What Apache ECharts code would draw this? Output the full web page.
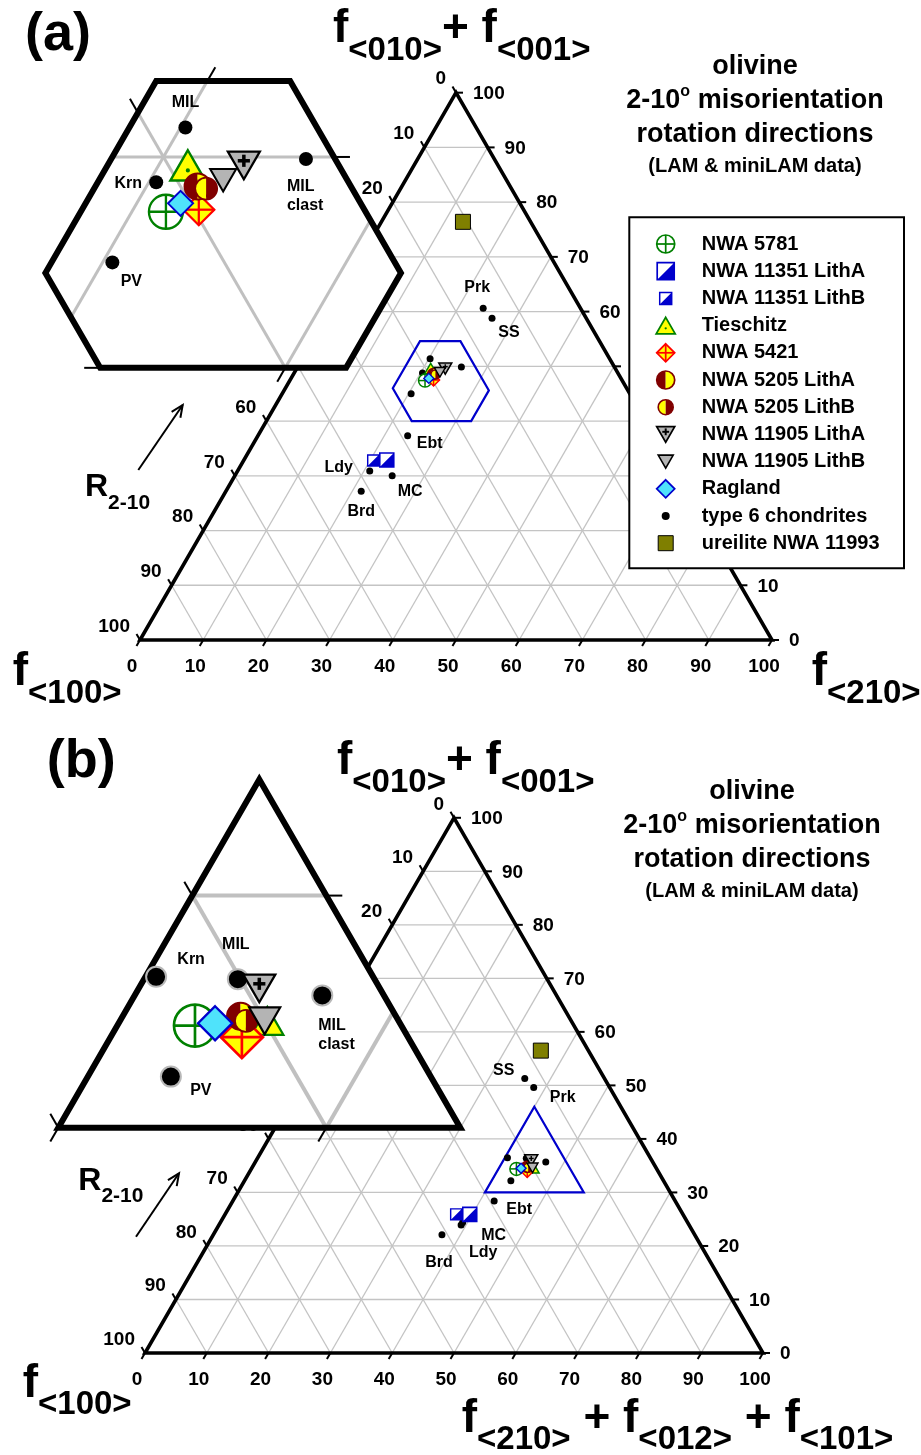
<!DOCTYPE html>
<html>
<head>
<meta charset="utf-8">
<script src="https://cdn.jsdelivr.net/npm/echarts@6.0.0/dist/echarts.min.js"></script>
<style>
  html, body { margin: 0; padding: 0; background: #fff; }
  #chart { width: 921px; height: 1455px; }
</style>
</head>
<body>
<div id="chart"></div>
<script>
// ---------------- data ----------------
// Ternary values: T = top vertex %, R = right vertex %, L = 100 - T - R (left vertex, f<100>)
const axisTicks = [0, 10, 20, 30, 40, 50, 60, 70, 80, 90, 100];
const gridSteps = [10, 20, 30, 40, 50, 60, 70, 80, 90];

// (a) T = f<010>+f<001>, R = f<210>
const meteoritesA = [
  ['NWA 5781', 47.4, 21.4],
  ['NWA 11351 LithA', 32.9, 22.6],
  ['NWA 11351 LithB', 32.8, 20.5],
  ['Tieschitz', 49.6, 21.2],
  ['NWA 5421', 47.5, 22.7],
  ['NWA 5205 LithA', 48.6, 22.1],
  ['NWA 5205 LithB', 48.5, 22.5],
  ['NWA 11905 LithA', 49.6, 23.5],
  ['NWA 11905 LithB', 48.9, 23.0],
  ['Ragland', 47.8, 21.8]
];
const type6A = [
  ['MIL', 51.4, 20.2], ['Krn', 48.8, 20.3], ['MIL clast', 49.9, 25.9], ['PV', 45.0, 20.4],
  ['Ebt', 37.3, 23.7], ['Ldy', 30.9, 20.9], ['MC', 30.0, 24.9], ['Brd', 27.2, 21.4],
  ['Prk', 60.6, 24.0], ['SS', 58.8, 26.3]
];
const ureiliteA = [['ureilite NWA 11993', 76.4, 12.9]];
// outlined region on the diagram and the enlarged region: [T range], [R range], [L range]
const outlineA = [[40, 54.6], [17, 32.4], [22, 37]];
const zoomWindowA = [[40, 53.6], [17.9, 32.5], [23, 37.6]];
const zoomTicksA = [['R', 20, 1], ['L', 30, 1], ['T', 50, 1], ['T', 40, 0], ['R', 30, 0]];

// (b) T = f<010>+f<001>, R = f<210>+f<012>+f<101>
const meteoritesB = [
  ['NWA 5781', 34.4, 42.9],
  ['NWA 11351 LithA', 25.9, 39.6],
  ['NWA 11351 LithB', 25.9, 37.4],
  ['Tieschitz', 34.6, 45.5],
  ['NWA 5421', 33.9, 44.9],
  ['NWA 5205 LithA', 34.8, 44.4],
  ['NWA 5205 LithB', 34.6, 44.7],
  ['NWA 11905 LithA', 36.0, 44.5],
  ['NWA 11905 LithB', 34.6, 45.4],
  ['Ragland', 34.5, 43.6]
];
const type6B = [
  ['MIL', 36.4, 43.5], ['Krn', 36.5, 40.4], ['MIL clast', 35.7, 47.0], ['PV', 32.2, 43.1],
  ['Ebt', 28.4, 42.3], ['Ldy', 23.9, 39.2], ['MC', 24.4, 39.2], ['Brd', 22.1, 37.0],
  ['Prk', 49.6, 38.1], ['SS', 51.3, 35.8]
];
const ureiliteB = [['ureilite NWA 11993', 56.5, 35.8]];
const outlineB = [[30, 46], [40, 56], [14, 30]];
const zoomWindowB = [[30, 45], [40, 55], [15, 30]];
const zoomTicksB = [['T', 40, 1], ['L', 20, 1], ['R', 50, 0], ['L', 30, 1], ['R', 40, 0]];

const legendNames = ['NWA 5781', 'NWA 11351 LithA', 'NWA 11351 LithB', 'Tieschitz', 'NWA 5421',
  'NWA 5205 LithA', 'NWA 5205 LithB', 'NWA 11905 LithA', 'NWA 11905 LithB', 'Ragland',
  'type 6 chondrites', 'ureilite NWA 11993'];

// ---------------- styling ----------------
const FONT = '"Liberation Sans", Arial, Helvetica, sans-serif';
const SQ = Math.sqrt(3) / 2;
const COL = { green: '#008000', blue: '#0000cc', yellow: '#ffff00', red: '#ff0000', maroon: '#800000',
  gray: '#b4b4b4', cyan: '#4fe3fb', olive: '#7f7f00', grid: '#c4c4c4' };

const glyphKind = {
  'NWA 5781': 'crossCircle', 'NWA 11351 LithA': 'halfSquare', 'NWA 11351 LithB': 'halfSquare',
  'Tieschitz': 'dotTriangle', 'NWA 5421': 'crossDiamond', 'NWA 5205 LithA': 'halfCircleA',
  'NWA 5205 LithB': 'halfCircleB', 'NWA 11905 LithA': 'crossTriDown', 'NWA 11905 LithB': 'triDown',
  'Ragland': 'diamond', 'type 6 chondrites': 'dot', 'ureilite NWA 11993': 'square'
};
const sizeMain = { 'NWA 5781': 13, 'NWA 11351 LithA': 14, 'NWA 11351 LithB': 11, 'Tieschitz': 12,
  'NWA 5421': 12, 'NWA 5205 LithA': 11, 'NWA 5205 LithB': 9, 'NWA 11905 LithA': 13, 'NWA 11905 LithB': 11,
  'Ragland': 10, 'type 6 chondrites': 7, 'ureilite NWA 11993': 15 };
const sizeInsetA = { 'NWA 5781': 34, 'Tieschitz': 35, 'NWA 5421': 31, 'NWA 5205 LithA': 26,
  'NWA 5205 LithB': 22, 'NWA 11905 LithA': 32, 'NWA 11905 LithB': 26, 'Ragland': 25, 'type 6 chondrites': 14 };
const sizeInsetB = { 'NWA 5781': 42, 'Tieschitz': 32, 'NWA 5421': 42, 'NWA 5205 LithA': 27,
  'NWA 5205 LithB': 22, 'NWA 11905 LithA': 32, 'NWA 11905 LithB': 31, 'Ragland': 34, 'type 6 chondrites': 20 };
const sizeLegend = { 'NWA 5781': 18, 'NWA 11351 LithA': 17, 'NWA 11351 LithB': 12, 'Tieschitz': 19,
  'NWA 5421': 18, 'NWA 5205 LithA': 18, 'NWA 5205 LithB': 15, 'NWA 11905 LithA': 18, 'NWA 11905 LithB': 15,
  'Ragland': 18, 'type 6 chondrites': 8, 'ureilite NWA 11993': 15 };

// label placement (pixel offsets from the point, optional alignment)
const labelsA = { Prk: [-6, -21], SS: [17, 14], Ebt: [22, 8], Ldy: [-31, -3], MC: [18, 16], Brd: [0, 20] };
const labelsAi = { MIL: [0, -25], Krn: [-28, 1], 'MIL clast': [-19, 37, 'left'], PV: [19, 19] };
const labelsB = { SS: [-21, -8], Prk: [29, 10], Ebt: [25, 9], MC: [31, 13], Ldy: [22, 28], Brd: [-3, 27.5] };
const labelsBi = { Krn: [35, -17], MIL: [-2, -35], 'MIL clast': [-4, 40, 'left'], PV: [30, 14] };

// ---------------- geometry helpers ----------------
function tern(T, R) { return [R + T / 2, T * SQ]; }

function windowVerts(w) {
  const [[t0, t1], [r0, r1], [l0, l1]] = w;
  return [[t1, r0], [t1, 100 - t1 - l0], [100 - l0 - r1, r1], [t0, r1], [t0, 100 - t0 - l1], [100 - l1 - r0, r0]];
}
function segment(type, k, w) {
  const [[t0, t1], [r0, r1], [l0, l1]] = w;
  let a, b;
  if (type === 'T') {
    a = Math.max(r0, 100 - k - l1); b = Math.min(r1, 100 - k - l0);
    return a <= b + 1e-9 ? [[k, a], [k, b]] : null;
  }
  if (type === 'R') {
    a = Math.max(t0, 100 - k - l1); b = Math.min(t1, 100 - k - l0);
    return a <= b + 1e-9 ? [[a, k], [b, k]] : null;
  }
  a = Math.max(t0, 100 - k - r1); b = Math.min(t1, 100 - k - r0);
  return a <= b + 1e-9 ? [[a, 100 - k - a], [b, 100 - k - b]] : null;
}
function windowGrid(w) {
  const ranges = { T: w[0], R: w[1], L: w[2] };
  const segs = [];
  ['T', 'R', 'L'].forEach(type => gridSteps.forEach(k => {
    if (k > ranges[type][0] + 1e-9 && k < ranges[type][1] - 1e-9) {
      const s = segment(type, k, w);
      if (s) segs.push([...tern(s[0][0], s[0][1]), ...tern(s[1][0], s[1][1])]);
    }
  }));
  return segs;
}
function fullGrid() {
  const segs = [];
  gridSteps.forEach(k => {
    segs.push([...tern(k, 0), ...tern(k, 100 - k)]);
    segs.push([...tern(0, k), ...tern(100 - k, k)]);
    segs.push([...tern(0, 100 - k), ...tern(100 - k, 0)]);
  });
  return segs;
}
function inside(w, T, R) {
  const L = 100 - T - R, e = 0.01;
  return T >= w[0][0] - e && T <= w[0][1] + e && R >= w[1][0] - e && R <= w[1][1] + e && L >= w[2][0] - e && L <= w[2][1] + e;
}

// ---------------- glyphs ----------------
function glyph(kind, x, y, s, ring) {
  const r = s / 2, lw = 1 + s / 25, h = s * SQ;
  const ln = (x1, y1, x2, y2, c, w) => ({ type: 'line', shape: { x1, y1, x2, y2 }, style: { stroke: c, lineWidth: w } });
  switch (kind) {
    case 'dot':
      return [{ type: 'circle', shape: { cx: x, cy: y, r }, style: ring ? { fill: '#000', stroke: '#b8b8b8', lineWidth: 2 } : { fill: '#000' } }];
    case 'crossCircle':
      return [
        { type: 'circle', shape: { cx: x, cy: y, r }, style: { fill: '#fff', stroke: COL.green, lineWidth: lw } },
        ln(x - r, y, x + r, y, COL.green, lw), ln(x, y - r, x, y + r, COL.green, lw)];
    case 'halfSquare':
      return [
        { type: 'rect', shape: { x: x - r, y: y - r, width: s, height: s }, style: { fill: '#fff' } },
        { type: 'polygon', shape: { points: [[x - r, y + r], [x + r, y - r], [x + r, y + r]] }, style: { fill: COL.blue } },
        { type: 'rect', shape: { x: x - r, y: y - r, width: s, height: s }, style: { fill: null, stroke: COL.blue, lineWidth: lw } }];
    case 'dotTriangle':
      return [
        { type: 'polygon', shape: { points: [[x, y - h / 2], [x + r, y + h / 2], [x - r, y + h / 2]] },
          style: { fill: COL.yellow, stroke: COL.green, lineWidth: lw, lineJoin: 'miter' } },
        { type: 'circle', shape: { cx: x, cy: y + h / 6, r: Math.max(1.1, s * 0.06) }, style: { fill: COL.green } }];
    case 'crossDiamond':
      return [
        { type: 'polygon', shape: { points: [[x, y - r], [x + r, y], [x, y + r], [x - r, y]] },
          style: { fill: COL.yellow, stroke: COL.red, lineWidth: lw } },
        ln(x - r, y, x + r, y, COL.red, lw), ln(x, y - r, x, y + r, COL.red, lw)];
    case 'halfCircleA':
    case 'halfCircleB': {
      const left = kind === 'halfCircleA' ? COL.maroon : COL.yellow;
      const right = kind === 'halfCircleA' ? COL.yellow : COL.maroon;
      return [
        { type: 'sector', shape: { cx: x, cy: y, r, r0: 0, startAngle: Math.PI / 2, endAngle: Math.PI * 1.5, clockwise: true }, style: { fill: left } },
        { type: 'sector', shape: { cx: x, cy: y, r, r0: 0, startAngle: -Math.PI / 2, endAngle: Math.PI / 2, clockwise: true }, style: { fill: right } },
        { type: 'circle', shape: { cx: x, cy: y, r }, style: { fill: null, stroke: COL.maroon, lineWidth: lw } }];
    }
    case 'crossTriDown':
    case 'triDown': {
      const out = [{ type: 'polygon', shape: { points: [[x - r, y - h / 2], [x + r, y - h / 2], [x, y + h / 2]] },
        style: { fill: COL.gray, stroke: '#000', lineWidth: lw, lineJoin: 'miter' } }];
      if (kind === 'crossTriDown') {
        const cy = y - h / 6, a = s * 0.19, t = Math.max(1.4, s * 0.11);
        out.push(ln(x - a, cy, x + a, cy, '#000', t), ln(x, cy - a, x, cy + a, '#000', t));
      }
      return out;
    }
    case 'diamond':
      return [{ type: 'polygon', shape: { points: [[x, y - r], [x + r, y], [x, y + r], [x - r, y]] },
        style: { fill: COL.cyan, stroke: COL.blue, lineWidth: lw } }];
    case 'square':
      return [{ type: 'rect', shape: { x: x - r, y: y - r, width: s, height: s }, style: { fill: COL.olive, stroke: '#000', lineWidth: 1 } }];
  }
  return [];
}

function textStyle(text, x, y, size, align, extra) {
  return Object.assign({ text, x, y, fontSize: size, fontWeight: 'bold', fontFamily: FONT, fill: '#000',
    align: align || 'left', textAlign: align || 'left', verticalAlign: 'middle', textVerticalAlign: 'middle' }, extra || {});
}

// ---------------- series builders ----------------
function base(gi, z) {
  return { type: 'custom', coordinateSystem: 'cartesian2d', xAxisIndex: gi, yAxisIndex: gi, z, silent: true, clip: false, animation: false };
}
function lineSeries(gi, segs, color, width, z) {
  return Object.assign(base(gi, z), {
    data: segs, encode: { x: [0, 2], y: [1, 3] },
    renderItem(p, api) {
      const a = api.coord([api.value(0), api.value(1)]), b = api.coord([api.value(2), api.value(3)]);
      return { type: 'line', shape: { x1: a[0], y1: a[1], x2: b[0], y2: b[1] }, style: { stroke: color, lineWidth: width } };
    }
  });
}
function polySeries(gi, verts, style, z) {
  const pts = verts.map(v => tern(v[0], v[1]));
  return Object.assign(base(gi, z), {
    data: [pts[0]],
    renderItem(p, api) {
      return { type: 'polygon', shape: { points: pts.map(q => api.coord(q)) }, style };
    }
  });
}
function axisTickSeries(gi, z) {
  const data = [];
  axisTicks.forEach(v => {
    data.push([...tern(100 - v, 0), 0, v]);   // left edge, f<100>
    data.push([...tern(0, v), 1, v]);         // bottom edge
    data.push([...tern(v, 100 - v), 2, v]);   // right edge, top-vertex fraction
  });
  const dirs = [[-0.5, -SQ], [-0.5, SQ], [1, 0]];
  return Object.assign(base(gi, z), {
    data,
    renderItem(p, api) {
      const q = api.coord([api.value(0), api.value(1)]);
      const ax = api.value(2), v = api.value(3), d = dirs[ax];
      let lab;
      if (ax === 0) lab = textStyle(String(v), q[0] - 10, q[1] - 13.5, 19, 'right');
      else if (ax === 1) lab = textStyle(String(v), q[0] - 8, q[1] + 27, 19, 'center');
      else lab = textStyle(String(v), q[0] + 17, q[1] + 1, 19, 'left');
      return { type: 'group', children: [
        { type: 'line', shape: { x1: q[0], y1: q[1], x2: q[0] + d[0] * 7, y2: q[1] + d[1] * 7 }, style: { stroke: '#000', lineWidth: 2 } },
        { type: 'text', style: lab }
      ] };
    }
  });
}
function zoomTickSeries(gi, w, ticks, z) {
  const dirs = { T1: [1, 0], T0: [-1, 0], R1: [0.5, -SQ], R0: [-0.5, SQ], L1: [-0.5, -SQ], L0: [0.5, SQ] };
  const items = ticks.map(([type, k, end]) => {
    const s = segment(type, k, w), q = s[end];
    return { value: tern(q[0], q[1]), dir: dirs[type + end] };
  });
  return Object.assign(base(gi, z), {
    data: items.map(it => it.value),
    renderItem(p, api) {
      const q = api.coord([api.value(0), api.value(1)]), d = items[p.dataIndex].dir;
      return { type: 'line', shape: { x1: q[0], y1: q[1], x2: q[0] + d[0] * 16, y2: q[1] + d[1] * 16 }, style: { stroke: '#000', lineWidth: 2 } };
    }
  });
}
function markerSeries(gi, rows, key, sizes, labels, z, win, ring) {
  const items = rows.filter(r => !win || inside(win, r[1], r[2]))
    .map(r => ({ name: r[0], value: tern(r[1], r[2]) }));
  return Object.assign(base(gi, z), {
    data: items.map(it => it.value),
    renderItem(p, api) {
      const it = items[p.dataIndex];
      const q = api.coord([api.value(0), api.value(1)]);
      const k = key || it.name;
      const children = glyph(glyphKind[k], q[0], q[1], sizes[k], ring);
      const lab = labels && labels[it.name];
      if (lab) {
        children.push({ type: 'text', style: textStyle(it.name.replace(' ', '\n'), q[0] + lab[0], q[1] + lab[1], 16, lab[2] || 'center', { lineHeight: 19 }) });
      }
      return { type: 'group', children };
    }
  });
}

// ---------------- layout ----------------
const grids = [
  { left: 140, top: 640 - 632 * SQ, width: 632, height: 632 * SQ },           // (a) main
  { left: 41.75, top: 42.55, width: 17 * 24.35, height: 15 * 24.35 },          // (a) enlarged
  { left: 145, top: 1353 - 618 * SQ, width: 618, height: 618 * SQ },           // (b) main
  { left: 31.5, top: 725.16, width: 18 * 26.8, height: 16 * 26.8 }             // (b) enlarged
];
const xr = [[0, 100], [40, 57], [0, 100], [54, 72]];
const yr = [[0, 100 * SQ], [33, 48], [0, 100 * SQ], [25, 41]];

const series = [];
function panel(gMain, gZoom, mets, t6, ure, outline, win, zticks, lMain, lZoom, sZoom, ring) {
  series.push(lineSeries(gMain, fullGrid(), COL.grid, 1.3, 1));
  series.push(polySeries(gMain, [[0, 0], [0, 100], [100, 0]], { fill: null, stroke: '#000', lineWidth: 3.6, lineJoin: 'miter' }, 3));
  series.push(axisTickSeries(gMain, 3));
  series.push(polySeries(gMain, windowVerts(outline), { fill: null, stroke: COL.blue, lineWidth: 2.2 }, 4));
  series.push(markerSeries(gMain, ure, null, sizeMain, null, 5));
  series.push(markerSeries(gMain, t6, 'type 6 chondrites', sizeMain, lMain, 5));
  series.push(markerSeries(gMain, mets, null, sizeMain, null, 6));
  // enlarged view
  series.push(polySeries(gZoom, windowVerts(win), { fill: '#fff', stroke: null }, 10));
  series.push(lineSeries(gZoom, windowGrid(win), '#c0c0c0', ring ? 4 : 3, 11));
  series.push(zoomTickSeries(gZoom, win, zticks, 12));
  series.push(polySeries(gZoom, windowVerts(win), { fill: null, stroke: '#000', lineWidth: 6, lineJoin: 'miter' }, 12));
  series.push(markerSeries(gZoom, t6, 'type 6 chondrites', sZoom, lZoom, 13, win, ring));
  series.push(markerSeries(gZoom, mets, null, sZoom, null, 14, win));
}
panel(0, 1, meteoritesA, type6A, ureiliteA, outlineA, zoomWindowA, zoomTicksA, labelsA, labelsAi, sizeInsetA, false);
panel(2, 3, meteoritesB, type6B, ureiliteB, outlineB, zoomWindowB, zoomTicksB, labelsB, labelsBi, sizeInsetB, true);

// ---------------- free text, legend, arrows ----------------
const measureCtx = document.createElement('canvas').getContext('2d');
function tw(str, size) { measureCtx.font = 'bold ' + size + 'px ' + FONT; return measureCtx.measureText(str).width; }
function txt(str, x, baseline, size, align) {
  return { type: 'text', z: 100, silent: true, style: textStyle(str, x, baseline - 0.3465 * size, size, align) };
}
function chain(x, pieces, center) {
  const total = pieces.reduce((s, p) => s + tw(p[0], p[1]), 0);
  let cx = center ? x - total / 2 : x;
  return pieces.map(p => { const e = txt(p[0], cx, p[2], p[1]); cx += tw(p[0], p[1]); return e; });
}
function arrow(x1, y1, x2, y2) {
  const a = Math.atan2(y2 - y1, x2 - x1), L = 13, sp = 0.42;
  return [
    { type: 'polyline', z: 100, silent: true, shape: { points: [[x1, y1], [x2, y2]] }, style: { stroke: '#000', lineWidth: 2 } },
    { type: 'polyline', z: 100, silent: true, shape: { points: [
      [x2 - L * Math.cos(a - sp), y2 - L * Math.sin(a - sp)], [x2, y2], [x2 - L * Math.cos(a + sp), y2 - L * Math.sin(a + sp)]] },
      style: { stroke: '#000', lineWidth: 2, fill: null } }
  ];
}
function titleBlock(cx, b0) {
  return [
    txt('olivine', cx, b0, 27, 'center'),
    ...chain(cx, [['2-10', 27, b0 + 34], ['o', 16, b0 + 21], [' misorientation', 27, b0 + 34]], true),
    txt('rotation directions', cx, b0 + 67.5, 27, 'center'),
    txt('(LAM & miniLAM data)', cx, b0 + 97, 20, 'center')
  ];
}

const graphic = [
  txt('(a)', 25, 54, 54), txt('(b)', 46.7, 781, 54),
  ...chain(333, [['f', 46, 45], ['<010>', 33, 62], ['+', 46, 45], [' f', 46, 45], ['<001>', 33, 62]]),
  ...chain(12.7, [['f', 46, 688], ['<100>', 33, 705]]),
  ...chain(811.7, [['f', 46, 688], ['<210>', 33, 705]]),
  ...chain(337, [['f', 46, 777], ['<010>', 33, 794], ['+', 46, 777], [' f', 46, 777], ['<001>', 33, 794]]),
  ...chain(22.7, [['f', 46, 1400], ['<100>', 33, 1416]]),
  ...chain(461.7, [['f', 46, 1435], ['<210>', 33, 1451], [' + f', 46, 1435], ['<012>', 33, 1451], [' + f', 46, 1435], ['<101>', 33, 1451]]),
  ...chain(85, [['R', 32, 498], ['2-10', 21, 510]]),
  ...chain(78.3, [['R', 32, 1192], ['2-10', 21, 1203]]),
  ...arrow(138.3, 470, 182.7, 405),
  ...arrow(136, 1236.7, 179, 1173.3),
  ...titleBlock(755, 76),
  ...titleBlock(752, 801),
  { type: 'rect', z: 100, silent: true, shape: { x: 629.3, y: 217.3, width: 274.7, height: 351 }, style: { fill: '#fff', stroke: '#000', lineWidth: 2 } }
];
legendNames.forEach((name, i) => {
  const y = 244 + i * 27.2;
  const parts = glyph(glyphKind[name], 665.7, y, sizeLegend[name]);
  parts.forEach(p => { p.z = 101; p.silent = true; graphic.push(p); });
  graphic.push({ type: 'text', z: 101, silent: true, style: textStyle(name, 701.7, y, 20, 'left') });
});

const chart = echarts.init(document.getElementById('chart'), null, { renderer: 'canvas', width: 921, height: 1455 });
chart.setOption({
  animation: false,
  backgroundColor: '#fff',
  grid: grids.map(g => Object.assign({ show: false, containLabel: false }, g)),
  xAxis: xr.map((r, i) => ({ type: 'value', gridIndex: i, min: r[0], max: r[1], show: false })),
  yAxis: yr.map((r, i) => ({ type: 'value', gridIndex: i, min: r[0], max: r[1], show: false })),
  series,
  graphic
});
</script>
</body>
</html>
